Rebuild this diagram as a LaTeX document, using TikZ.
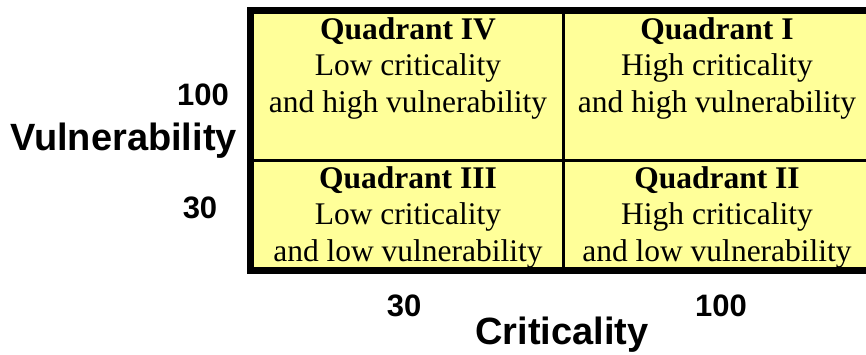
\documentclass[tikz,border=0pt]{standalone}
\usepackage{fontspec}
\setmainfont{Liberation Serif}
\newfontfamily\axisfont{Liberation Sans}
\definecolor{cellyellow}{RGB}{255,255,153}
\begin{document}
\begin{tikzpicture}[x=1pt,y=-1pt,
  celltext/.style={anchor=north, inner sep=0pt, align=center, font=\fontsize{31.5}{36.5}\selectfont},
  ticklabel/.style={anchor=base, inner sep=0pt, font=\axisfont\bfseries\fontsize{31}{31}\selectfont},
  axislabel/.style={anchor=base, inner sep=0pt, font=\axisfont\bfseries\fontsize{38}{38}\selectfont}]
\useasboundingbox (0,0) rectangle (866,354);
\clip (0,0) rectangle (866,354);
\fill[cellyellow] (254,14) rectangle (875,267);
\draw[line width=3pt] (563.5,14) -- (563.5,267);
\draw[line width=3pt] (254,160.5) -- (875,160.5);
\draw[line width=7pt] (880,10.5) -- (250.5,10.5) -- (250.5,270.5) -- (880,270.5);
\node[celltext] (q4) at (408,17) {\textbf{Quadrant IV}\\Low criticality\\and high vulnerability};
\node[celltext] (q1) at (717,17) {\textbf{Quadrant I}\\High criticality\\and high vulnerability};
\node[celltext] (q3) at (408,166) {\textbf{Quadrant III}\\Low criticality\\and low vulnerability};
\node[celltext] (q2) at (717,166) {\textbf{Quadrant II}\\High criticality\\and low vulnerability};
\node[ticklabel, anchor=base east] (v100) at (229,105) {100};
\node[axislabel, anchor=base east] (vlab) at (237,150) {Vulnerability};
\node[ticklabel] (v30) at (200,218) {30};
\node[ticklabel] (c30) at (404,316) {30};
\node[ticklabel] (c100) at (721,316) {100};
\node[axislabel] (clab) at (562,344) {Criticality};
\end{tikzpicture}
\end{document}
